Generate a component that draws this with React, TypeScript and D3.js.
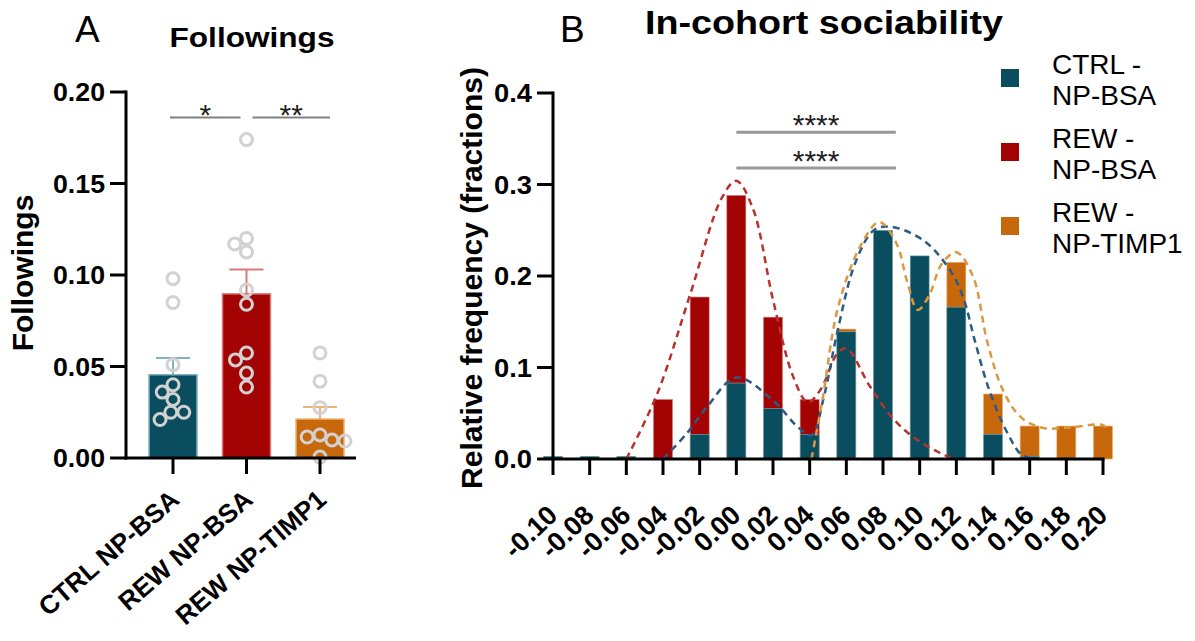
import * as d3 from "d3";

// ---- Panel A: Followings ----
const groups = ["CTRL NP-BSA", "REW NP-BSA", "REW NP-TIMP1"];
const groupColors = ["#0a4d5e", "#a30303", "#c8680c"];
const groupEdges = ["#7fb3c2", "#d97a7a", "#f0b070"];
const means = [0.0455, 0.0897, 0.0213];
const sems = [0.0091, 0.0133, 0.0066];
const ctrlPoints = [0.098, 0.085, 0.051, 0.04, 0.036, 0.032, 0.025, 0.025, 0.021];
const rewPoints = [0.174, 0.12, 0.117, 0.1126, 0.0918, 0.084, 0.0574, 0.0536, 0.0464, 0.0388];
const timpPoints = [0.0574, 0.042, 0.0275, 0.0126, 0.0115, 0.0098, 0.0093, 0.0005];
const yTicksA = [0, 0.05, 0.1, 0.15, 0.2];
const sigA = [
  { from: 0, to: 1, label: "*" },
  { from: 1, to: 2, label: "**" },
];

// ---- Panel B: In-cohort sociability ----
const bins = ["-0.10", "-0.08", "-0.06", "-0.04", "-0.02", "0.00", "0.02", "0.04",
  "0.06", "0.08", "0.10", "0.12", "0.14", "0.16", "0.18", "0.20"];
const ctrlFreq = [0.003, 0.003, 0.003, 0, 0.027, 0.083, 0.055, 0.027, 0.139, 0.25, 0.222, 0.166, 0.027, 0.003, 0, 0];
const rewFreq = [0, 0, 0, 0.065, 0.177, 0.288, 0.155, 0.065, 0, 0, 0, 0, 0, 0, 0, 0];
const timpFreq = [0, 0, 0, 0, 0, 0, 0, 0, 0.142, 0.245, 0.18, 0.215, 0.071, 0.036, 0.036, 0.036];
const yTicksB = [0, 0.1, 0.2, 0.3, 0.4];
const rewFit: [number, number][] = [
  [-0.06, 0], [-0.043, 0.072], [-0.025, 0.181], [-0.008, 0.285], [0.0, 0.304], [0.009, 0.274],
  [0.02, 0.174], [0.031, 0.09], [0.039, 0.062], [0.046, 0.076], [0.055, 0.115], [0.06, 0.121],
  [0.073, 0.079], [0.086, 0.043], [0.1, 0.019], [0.118, 0],
];
const ctrlFit: [number, number][] = [
  [-0.04, 0], [-0.027, 0.028], [-0.016, 0.057], [0.0, 0.089], [0.02, 0.064], [0.034, 0.034],
  [0.041, 0.026], [0.048, 0.07], [0.055, 0.138], [0.065, 0.215], [0.075, 0.25], [0.084, 0.254],
  [0.102, 0.239], [0.117, 0.205], [0.124, 0.175], [0.13, 0.13], [0.138, 0.075], [0.148, 0.028],
  [0.156, 0.004], [0.165, 0],
];
const timpFit: [number, number][] = [
  [0.041, 0], [0.047, 0.065], [0.0555, 0.166], [0.0675, 0.232], [0.078, 0.259], [0.0875, 0.235],
  [0.093, 0.195], [0.099, 0.163], [0.105, 0.178], [0.112, 0.213], [0.12, 0.226], [0.129, 0.2],
  [0.137, 0.127], [0.1455, 0.075], [0.155, 0.046], [0.167, 0.034], [0.184, 0.035], [0.2, 0.037],
  [0.203, 0.03],
];
const fitColors = ["#2c5b86", "#b8322f", "#dc9840"];
const sigB = [
  { x1: 0.0, x2: 0.087, y: 0.357, label: "****" },
  { x1: 0.0, x2: 0.087, y: 0.318, label: "****" },
];
const legendLabels = [["CTRL -", "NP-BSA"], ["REW -", "NP-BSA"], ["REW -", "NP-TIMP1"]];

const FONT = "Arial, 'Liberation Sans', Helvetica, sans-serif";

function swarm(values: number[], y: (v: number) => number, d: number) {
  const placed: { x: number; y: number }[] = [];
  return values.map((v) => {
    const py = y(v);
    const cands = [0];
    placed.forEach((p) => {
      const dy = Math.abs(p.y - py);
      if (dy < d) {
        const dx = Math.sqrt(d * d - dy * dy);
        cands.push(p.x - dx, p.x + dx);
      }
    });
    const ok = cands
      .filter((c) => placed.every((p) => (p.x - c) ** 2 + (p.y - py) ** 2 >= d * d - 0.01))
      .sort((a, b) => Math.abs(a) - Math.abs(b) || a - b);
    const x = ok[0];
    placed.push({ x, y: py });
    return { x, y: py };
  });
}

export default function App() {
  // panel A scales
  const yA = d3.scaleLinear().domain([0, 0.2]).range([458, 92]);
  const xA = d3.scalePoint<string>().domain(groups).range([173, 320]);
  const barWA = 48;
  const fmtA = d3.format(".2f");
  const allPoints = [ctrlPoints, rewPoints, timpPoints];

  // panel B scales
  const yB = d3.scaleLinear().domain([0, 0.4]).range([459, 93]);
  const xB = d3.scalePoint<string>().domain(bins).range([553, 1103]);
  const xN = d3.scaleLinear().domain([-0.1, 0.2]).range([553, 1103]);
  const barWB = 19;
  const fmtB = d3.format(".1f");
  const line = d3
    .line<[number, number]>()
    .x((d) => xN(d[0]))
    .y((d) => yB(d[1]))
    .curve(d3.curveCatmullRom.alpha(0.5));

  const freqs = [ctrlFreq, rewFreq, timpFreq];
  const drawOrder = [2, 1, 0];
  const fits = [ctrlFit, rewFit, timpFit];
  const fitOrder = [1, 0, 2];

  return (
    <svg
      width={1195}
      height={641}
      style={{ position: "absolute", left: 0, top: 0, background: "#fff" }}
      fontFamily={FONT}
    >
      {/* ===== Panel A ===== */}
      <text x={75} y={42} fontSize={37}>A</text>
      <text x={252} y={47} fontSize={28} fontWeight="bold" textAnchor="middle" textLength={165} lengthAdjust="spacingAndGlyphs">
        Followings
      </text>
      <text transform="translate(33,273) rotate(-90)" fontSize={30} fontWeight="bold" textAnchor="middle">
        Followings
      </text>

      {groups.map((g, i) => (
        <g key={g}>
          <rect
            x={xA(g)! - barWA / 2}
            y={yA(means[i])}
            width={barWA}
            height={yA(0) - yA(means[i])}
            fill={groupColors[i]}
            stroke={groupEdges[i]}
            strokeWidth={1.5}
          />
          <line x1={xA(g)} x2={xA(g)} y1={yA(means[i])} y2={yA(means[i] + sems[i])} stroke={groupEdges[i]} strokeWidth={2} />
          <line x1={xA(g)! - 17} x2={xA(g)! + 17} y1={yA(means[i] + sems[i])} y2={yA(means[i] + sems[i])} stroke={groupEdges[i]} strokeWidth={2} />
          {swarm(allPoints[i], yA, 13).map((p, j) => (
            <circle key={j} cx={xA(g)! + p.x} cy={p.y} r={6} fill="none" stroke="#d2d2d2" strokeWidth={3} />
          ))}
        </g>
      ))}

      {/* axes A */}
      <line x1={126} x2={126} y1={yA(0.2) - 1.5} y2={yA(0) + 1.5} stroke="#000" strokeWidth={3} />
      <line x1={124.5} x2={356} y1={yA(0)} y2={yA(0)} stroke="#000" strokeWidth={3} />
      {yTicksA.map((t) => (
        <g key={t}>
          <line x1={110} x2={126} y1={yA(t)} y2={yA(t)} stroke="#000" strokeWidth={3} />
          <text x={105} y={yA(t)} dy="0.36em" textAnchor="end" fontSize={26} fontWeight="bold" textLength={52} lengthAdjust="spacingAndGlyphs">
            {fmtA(t)}
          </text>
        </g>
      ))}
      {groups.map((g) => (
        <g key={g}>
          <line x1={xA(g)} x2={xA(g)} y1={yA(0)} y2={yA(0) + 16} stroke="#000" strokeWidth={3} />
          <text transform={`translate(${xA(g)! + 8},${yA(0) + 44}) rotate(-41)`} textAnchor="end" fontSize={26} fontWeight="bold">
            {g}
          </text>
        </g>
      ))}
      {sigA.map((s, i) => {
        const x1 = xA(groups[s.from])! + (i === 0 ? -3 : 6);
        const x2 = xA(groups[s.to])! + (i === 0 ? -6 : 10);
        const y = yA(0.186);
        return (
          <g key={i}>
            <line x1={x1} x2={x2} y1={y} y2={y} stroke="#808080" strokeWidth={2} />
            <text x={(x1 + x2) / 2} y={y + 7} textAnchor="middle" fontSize={30} fill="#222">
              {s.label}
            </text>
          </g>
        );
      })}

      {/* ===== Panel B ===== */}
      <text x={560} y={42} fontSize={37}>B</text>
      <text x={824} y={34} fontSize={33} fontWeight="bold" textAnchor="middle" textLength={358} lengthAdjust="spacingAndGlyphs">
        In-cohort sociability
      </text>
      <text transform="translate(482,278) rotate(-90)" fontSize={30} fontWeight="bold" textAnchor="middle">
        Relative frequency (fractions)
      </text>

      {drawOrder.map((s) => (
        <g key={s}>
          {bins.map((b, i) =>
            freqs[s][i] > 0 ? (
              <rect
                key={b}
                x={xB(b)! - barWB / 2}
                y={yB(freqs[s][i])}
                width={barWB}
                height={yB(0) - yB(freqs[s][i])}
                fill={groupColors[s]}
                stroke={groupEdges[s]}
                strokeWidth={0.6}
              />
            ) : null
          )}
        </g>
      ))}

      {fitOrder.map((s) => (
        <path key={s} d={line(fits[s]) ?? ""} fill="none" stroke={fitColors[s]} strokeWidth={2.5} strokeDasharray="7 5" />
      ))}

      {/* axes B */}
      <line x1={553} x2={553} y1={yB(0.4) - 1.5} y2={yB(0) + 1.5} stroke="#000" strokeWidth={3} />
      <line x1={551.5} x2={1104.5} y1={yB(0)} y2={yB(0)} stroke="#000" strokeWidth={3} />
      {yTicksB.map((t) => (
        <g key={t}>
          <line x1={537} x2={553} y1={yB(t)} y2={yB(t)} stroke="#000" strokeWidth={3} />
          <text x={532} y={yB(t)} dy="0.36em" textAnchor="end" fontSize={26} fontWeight="bold" textLength={38} lengthAdjust="spacingAndGlyphs">
            {fmtB(t)}
          </text>
        </g>
      ))}
      {bins.map((b) => (
        <g key={b}>
          <line x1={xB(b)} x2={xB(b)} y1={yB(0)} y2={yB(0) + 16} stroke="#000" strokeWidth={3} />
          <text transform={`translate(${xB(b)! + 6},${yB(0) + 58}) rotate(-44)`} textAnchor="end" fontSize={27} fontWeight="bold">
            {b}
          </text>
        </g>
      ))}
      {sigB.map((s, i) => (
        <g key={i}>
          <line x1={xN(s.x1)} x2={xN(s.x2)} y1={yB(s.y)} y2={yB(s.y)} stroke="#999" strokeWidth={3} />
          <text x={(xN(s.x1) + xN(s.x2)) / 2} y={yB(s.y) + 3} textAnchor="middle" fontSize={30} fill="#222">
            {s.label}
          </text>
        </g>
      ))}

      {/* legend */}
      {legendLabels.map((l, i) => {
        const cy = 78 + i * 74;
        return (
          <g key={i}>
            <rect x={1001} y={cy - 9} width={18} height={18} fill={groupColors[i]} />
            <text x={1052} y={cy - 4} fontSize={28}>{l[0]}</text>
            <text x={1052} y={cy + 27} fontSize={28}>{l[1]}</text>
          </g>
        );
      })}
    </svg>
  );
}
